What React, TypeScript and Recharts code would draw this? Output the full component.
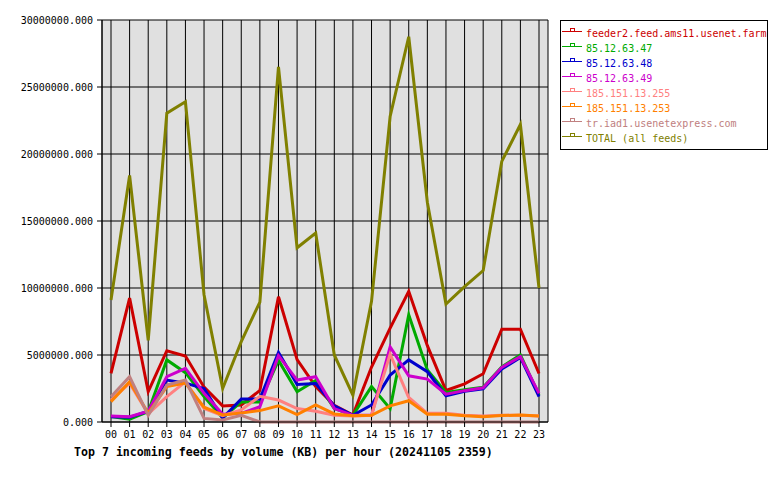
import React from 'react';
import { LineChart, Line, XAxis, YAxis, CartesianGrid, Legend } from 'recharts';

const HOURS = ['00', '01', '02', '03', '04', '05', '06', '07', '08', '09', '10', '11', '12', '13', '14', '15', '16', '17', '18', '19', '20', '21', '22', '23'];

const FEEDER2 = [3630000, 9250000, 2260000, 5320000, 4930000, 2600000, 1200000, 1270000, 2350000, 9350000, 4650000, 2640000, 1250000, 520000, 4100000, 7000000, 9750000, 5700000, 2350000, 2850000, 3600000, 6930000, 6930000, 3620000];
const IP47 = [400000, 200000, 770000, 4630000, 3680000, 1900000, 300000, 1500000, 1500000, 4600000, 2260000, 3100000, 1000000, 500000, 2640000, 1000000, 8000000, 3880000, 2200000, 2400000, 2600000, 4120000, 5000000, 2000000];
const IP48 = [400000, 350000, 800000, 3130000, 2900000, 2500000, 300000, 1720000, 1720000, 5200000, 2800000, 2870000, 1200000, 500000, 1270000, 3500000, 4630000, 3750000, 1950000, 2300000, 2470000, 3950000, 4820000, 1890000];
const IP49 = [450000, 400000, 800000, 3380000, 4000000, 2140000, 580000, 650000, 1140000, 4950000, 3130000, 3380000, 1000000, 500000, 500000, 5600000, 3450000, 3200000, 2070000, 2340000, 2550000, 4080000, 4880000, 2140000];
const IP255 = [1640000, 2900000, 600000, 1890000, 3000000, 1000000, 480000, 900000, 1920000, 1640000, 1000000, 800000, 500000, 450000, 500000, 5070000, 1830000, 650000, 650000, 500000, 450000, 500000, 500000, 450000];
const IP253 = [1520000, 3000000, 650000, 2640000, 2900000, 1100000, 530000, 680000, 850000, 1200000, 550000, 1270000, 600000, 470000, 500000, 1200000, 1590000, 580000, 580000, 470000, 400000, 480000, 520000, 450000];
const IAD1 = [1890000, 3380000, 500000, 2760000, 3130000, 270000, 150000, 500000, 0, 0, 0, 0, 0, 0, 0, 0, 0, 0, 0, 0, 0, 0, 0, 0];
const TOTAL = [9100000, 18400000, 6100000, 23050000, 23900000, 9500000, 2500000, 6000000, 8950000, 26500000, 13000000, 14100000, 5000000, 2000000, 9000000, 22800000, 28750000, 16400000, 8800000, 10100000, 11300000, 19450000, 22200000, 10000000];

const Y_TICKS = [0, 5000000, 10000000, 15000000, 20000000, 25000000, 30000000];
const TITLE = 'Top 7 incoming feeds by volume (KB) per hour (20241105 2359)';

const SERIES = [
  { key: 'feeder2', name: 'feeder2.feed.ams11.usenet.farm', color: '#cc0000', values: FEEDER2 },
  { key: 'ip47', name: '85.12.63.47', color: '#00aa00', values: IP47 },
  { key: 'ip48', name: '85.12.63.48', color: '#0000cc', values: IP48 },
  { key: 'ip49', name: '85.12.63.49', color: '#cc00cc', values: IP49 },
  { key: 'ip255', name: '185.151.13.255', color: '#ff8080', values: IP255 },
  { key: 'ip253', name: '185.151.13.253', color: '#ff8000', values: IP253 },
  { key: 'iad1', name: 'tr.iad1.usenetexpress.com', color: '#c08080', values: IAD1 },
  { key: 'total', name: 'TOTAL (all feeds)', color: '#808000', values: TOTAL },
];

const data = HOURS.map((h, i) => {
  const row: Record<string, string | number> = { hour: h };
  SERIES.forEach((s) => {
    row[s.key] = s.values[i];
  });
  return row;
});

const MONO = "'DejaVu Sans Mono', monospace";

const renderLegend = () => (
  <svg width={209} height={131} style={{ display: 'block' }}>
    <rect x={0.5} y={0.5} width={207} height={129} fill="#ffffff" stroke="#000000" />
    {SERIES.map((s, i) => {
      const y = 11.5 + i * 15;
      return (
        <g key={s.key}>
          <line x1={2} x2={22} y1={y} y2={y} stroke={s.color} strokeWidth={1} />
          <rect x={10.5} y={y - 3} width={4} height={3} fill="none" stroke={s.color} strokeWidth={1} />
          <text x={26} y={y + 5.5} fill={s.color} fontSize={10} fontFamily={MONO}>
            {s.name}
          </text>
        </g>
      );
    })}
  </svg>
);

const renderTitle = () => (
  <text x={74} y={456} fill="#000000" fontSize={11.6} fontWeight="bold" fontFamily={MONO}>
    {TITLE}
  </text>
);

export default function App() {
  return (
    <div style={{ position: 'absolute', left: 0, top: 0, width: 780, height: 480, background: '#ffffff' }}>
      <LineChart width={780} height={480} data={data} margin={{ top: 20, right: 232, bottom: 28, left: 0 }}>
        <CartesianGrid yAxisId="left" stroke="#000000" strokeWidth={1} fill="#e0e0e0" fillOpacity={1} />
        <XAxis
          dataKey="hour"
          interval={0}
          padding={{ left: 9, right: 9 }}
          height={30}
          tickSize={5}
          tickMargin={4}
          axisLine={{ stroke: '#000000' }}
          tickLine={{ stroke: '#000000' }}
          tick={{ fill: '#000000', fontSize: 10, fontFamily: MONO }}
          label={{ value: TITLE, content: renderTitle }}
        />
        <YAxis
          yAxisId="left"
          width={102}
          domain={[0, 30000000]}
          ticks={Y_TICKS}
          interval={0}
          tickSize={5}
          tickMargin={4}
          tickFormatter={(v: number) => v.toFixed(3)}
          axisLine={{ stroke: '#000000' }}
          tickLine={{ stroke: '#000000' }}
          tick={{ fill: '#000000', fontSize: 10, fontFamily: MONO }}
        />
        <YAxis
          yAxisId="right"
          orientation="right"
          width={0}
          domain={[0, 30000000]}
          tick={false}
          tickLine={false}
          axisLine={{ stroke: '#000000' }}
        />
        <Legend
          layout="vertical"
          align="center"
          verticalAlign="middle"
          wrapperStyle={{ left: 560, top: 20, width: 209, height: 131 }}
          content={renderLegend}
        />
        {SERIES.map((s) => (
          <Line
            key={s.key}
            yAxisId="left"
            type="linear"
            dataKey={s.key}
            name={s.name}
            stroke={s.color}
            strokeWidth={3}
            dot={false}
            activeDot={false}
            isAnimationActive={false}
          />
        ))}
      </LineChart>
    </div>
  );
}
